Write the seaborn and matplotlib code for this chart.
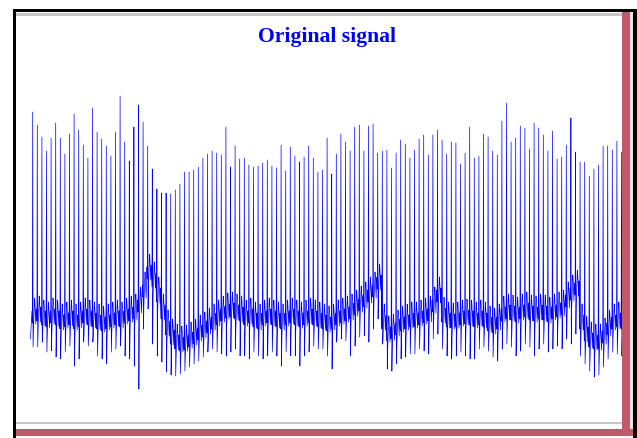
import matplotlib
matplotlib.use('Agg')
import matplotlib.pyplot as plt
from matplotlib.patches import Rectangle
import seaborn as sns
import numpy as np
import pandas as pd

W, H = 637, 439
BLUE = '#0000ff'
RED_BAR = '#c05a6a'
GRAY = '#c6c6c6'

# R peak height of each beat (mV)
r_peaks = [2.07, 1.94, 1.82, 1.68, 1.81, 1.96, 1.81, 1.65, 1.85, 2.05,
           1.89, 1.74, 1.61, 2.11, 1.87, 1.80, 1.73, 1.63, 1.87, 2.23,
           1.77, 1.58, 1.92, 2.14, 1.97, 1.73, 1.50, 1.30, 1.26, 1.26,
           1.25, 1.29, 1.35, 1.47, 1.47, 1.49, 1.52, 1.61, 1.65, 1.68,
           1.66, 1.64, 1.92, 1.52, 1.73, 1.60, 1.61, 1.54, 1.52, 1.53,
           1.56, 1.59, 1.53, 1.51, 1.74, 1.48, 1.72, 1.63, 1.57, 1.62,
           1.73, 1.61, 1.47, 1.49, 1.81, 1.45, 1.65, 1.85, 1.77, 1.68,
           1.92, 1.94, 1.68, 1.93, 1.95, 1.66, 1.68, 1.69, 1.51, 1.66,
           1.79, 1.75, 1.61, 1.69, 1.80, 1.84, 1.64, 1.84, 1.89, 1.79,
           1.65, 1.77, 1.76, 1.55, 1.66, 1.92, 1.61, 1.63, 1.85, 1.82,
           1.68, 1.64, 1.98, 2.16, 1.77, 1.81, 1.93, 1.91, 1.70, 1.96,
           1.91, 1.84, 1.68, 1.88, 1.60, 1.62, 1.74, 2.01, 1.67, 1.57,
           1.57, 1.43, 1.50, 1.54, 1.73, 1.73, 1.69, 1.78, 1.67]

# baseline level of each beat (mV), shows the wander
baseline = [0.04, 0.06, 0.02, 0.00, 0.04, 0.02, -0.02, 0.00, 0.02, -0.02,
            0.00, 0.04, 0.02, 0.00, -0.02, -0.04, -0.02, 0.00, 0.02, 0.00,
            0.04, 0.06, 0.08, 0.15, 0.30, 0.48, 0.40, 0.25, 0.08, -0.08,
            -0.17, -0.22, -0.24, -0.23, -0.20, -0.17, -0.13, -0.10, -0.06, -0.02,
            0.02, 0.06, 0.09, 0.10, 0.08, 0.06, 0.02, 0.04, 0.00, -0.02,
            0.02, 0.04, 0.02, 0.00, -0.02, 0.02, 0.04, 0.02, 0.00, 0.02,
            0.04, 0.02, 0.00, -0.02, -0.04, -0.02, 0.02, 0.04, 0.06, 0.08,
            0.12, 0.16, 0.20, 0.25, 0.30, 0.38, -0.02, -0.14, -0.12, -0.08,
            -0.04, -0.02, 0.00, 0.00, 0.02, 0.04, 0.06, 0.15, 0.25, 0.05,
            0.00, -0.01, 0.00, 0.02, 0.03, 0.02, 0.00, 0.02, 0.00, -0.04,
            -0.06, -0.02, 0.06, 0.08, 0.07, 0.05, 0.08, 0.10, 0.07, 0.06,
            0.08, 0.07, 0.05, 0.08, 0.10, 0.12, 0.20, 0.27, 0.32, -0.02,
            -0.14, -0.20, -0.22, -0.22, -0.16, -0.08, -0.02, 0.00, -0.02]

# S trough of each beat (mV)
s_troughs = [-0.28, -0.28, -0.23, -0.33, -0.32, -0.38, -0.40, -0.33, -0.27, -0.47,
             -0.40, -0.23, -0.27, -0.23, -0.37, -0.40, -0.45, -0.33, -0.30, -0.27,
             -0.37, -0.40, -0.47, -0.70, -0.10, 0.10, -0.25, -0.37, -0.43, -0.53,
             -0.56, -0.57, -0.55, -0.52, -0.48, -0.45, -0.42, -0.38, -0.33, -0.30,
             -0.33, -0.35, -0.37, -0.33, -0.30, -0.37, -0.37, -0.40, -0.33, -0.37,
             -0.40, -0.37, -0.33, -0.37, -0.47, -0.33, -0.37, -0.37, -0.47, -0.37,
             -0.33, -0.27, -0.30, -0.30, -0.37, -0.50, -0.23, -0.20, -0.22, -0.37,
             -0.27, -0.18, -0.17, -0.23, -0.10, 0.00, -0.25, -0.50, -0.52, -0.45,
             -0.40, -0.38, -0.35, -0.35, -0.30, -0.32, -0.35, -0.20, -0.15, -0.30,
             -0.37, -0.40, -0.37, -0.33, -0.37, -0.40, -0.40, -0.30, -0.28, -0.32,
             -0.38, -0.42, -0.30, -0.25, -0.28, -0.37, -0.32, -0.25, -0.28, -0.37,
             -0.30, -0.25, -0.33, -0.30, -0.27, -0.30, -0.20, -0.25, -0.15, -0.37,
             -0.45, -0.52, -0.58, -0.56, -0.48, -0.40, -0.33, -0.35, -0.37]

# small waves around each QRS, relative to the baseline (mV)
pre_qrs = [0.04, -0.08]
post_qrs = [-0.17, -0.04, 0.07, 0.17, 0.11, 0.01, -0.09, 0.06]
lead_in = [-0.20, -0.14, -0.06, 0.02]

signal = list(lead_in)
for r, b, s in zip(r_peaks, baseline, s_troughs):
    signal += [b + v for v in pre_qrs] + [r, s] + [b + v for v in post_qrs]
df = pd.DataFrame({'sample': np.arange(len(signal)), 'mV': signal})

sns.set_style('white')
fig = plt.figure(figsize=(W / 100, H / 100), dpi=100)
fig.patch.set_facecolor('white')

# plot area in pixels: x 28..622, y 20..420
ax = fig.add_axes([28 / W, 1 - 420 / H, (622 - 28) / W, 400 / H])
sns.lineplot(data=df, x='sample', y='mV', ax=ax, color=BLUE, linewidth=0.5,
             estimator=None, sort=False)
first_r = len(lead_in) + len(pre_qrs)
last_r = first_r + (len(r_peaks) - 1) * (len(pre_qrs) + 2 + len(post_qrs))
spp = (last_r - first_r) / (621.5 - 32.7)  # samples per pixel
ax.set_xlim(first_r - (32.7 - 28) * spp, last_r + 0.5 * spp)
ax.set_ylim(-1.0, 3.0)
ax.set_axis_off()

fig.text(327 / W, 1 - 37 / H, 'Original signal', color=BLUE, fontsize=15.6,
         fontweight='bold', family=['Liberation Serif', 'DejaVu Serif'],
         ha='center', va='center')


def px_rect(x0, y0, x1, y1, color):
    fig.add_artist(Rectangle((x0 / W, 1 - y1 / H), (x1 - x0) / W, (y1 - y0) / H,
                             transform=fig.transFigure, facecolor=color,
                             edgecolor='none', zorder=5))


# window frame of the screenshot
px_rect(13, 10, 637, 13, 'black')
px_rect(13, 10, 16, 439, 'black')
px_rect(16, 14, 622, 16.5, GRAY)
px_rect(622, 13, 629.5, 437, RED_BAR)
px_rect(629.5, 13, 632.5, 430, '#e4e4e4')
px_rect(632.5, 10, 637, 439, 'black')
px_rect(16, 422.5, 622, 424.5, GRAY)
px_rect(16, 430, 632.5, 437, RED_BAR)

fig.savefig('out.png', dpi=100, facecolor='white')
plt.close(fig)
